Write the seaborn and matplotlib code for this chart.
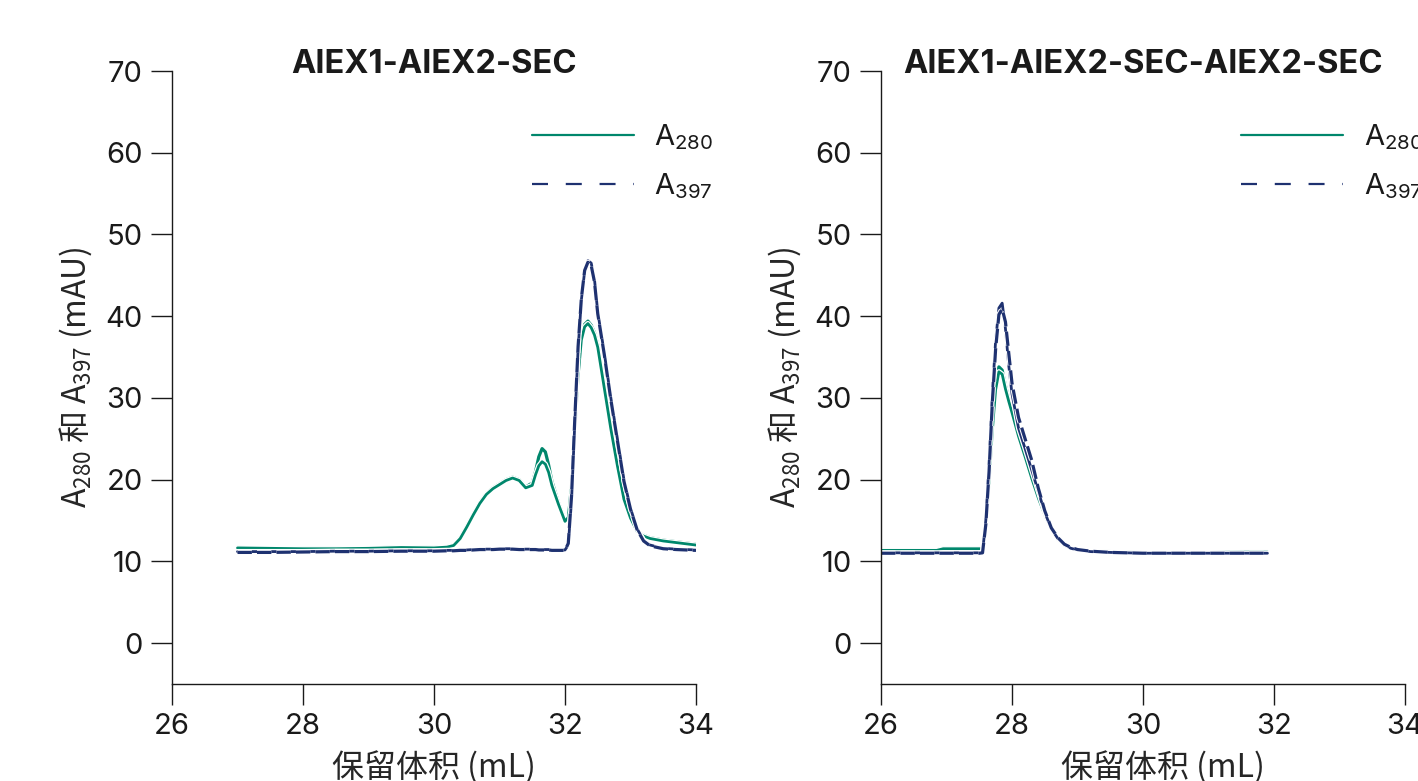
import numpy as np
import pandas as pd
import matplotlib
matplotlib.use("Agg")
import matplotlib.pyplot as plt
import matplotlib.patheffects as pe
from matplotlib.lines import Line2D
import seaborn as sns

# Panel 1: AIEX1-AIEX2-SEC
x1 = [27.0, 27.5, 28.0, 28.5, 29.0, 29.5, 30.0, 30.2, 30.3, 30.4, 30.5, 30.6,
      30.7, 30.8, 30.9, 31.0, 31.1, 31.2, 31.3, 31.4, 31.5, 31.55, 31.6, 31.65,
      31.7, 31.75, 31.8, 31.9, 32.0, 32.05, 32.1, 32.15, 32.2, 32.25, 32.3,
      32.35, 32.4, 32.45, 32.5, 32.6, 32.7, 32.8, 32.9, 33.0, 33.1, 33.2, 33.3,
      33.5, 33.7, 34.0]
a280_1a = [11.7, 11.65, 11.6, 11.6, 11.65, 11.75, 11.7, 11.8, 12.0, 12.9, 14.3,
           15.8, 17.2, 18.3, 19.0, 19.5, 20.0, 20.3, 20.0, 19.1, 19.6, 21.0,
           22.8, 23.8, 23.4, 21.8, 19.8, 17.2, 15.0, 15.6, 20.0, 26.0, 33.0,
           37.5, 39.0, 39.4, 38.9, 38.0, 36.5, 31.5, 26.5, 22.0, 17.8, 15.5,
           13.8, 13.2, 12.9, 12.6, 12.4, 12.1]
a280_1b = [11.65, 11.6, 11.55, 11.55, 11.6, 11.7, 11.65, 11.75, 11.95, 12.8,
           14.2, 15.7, 17.1, 18.2, 18.9, 19.4, 19.9, 20.2, 19.9, 19.0, 19.3,
           20.6, 21.7, 22.2, 21.9, 20.9, 19.3, 17.0, 14.9, 15.4, 19.6, 25.6,
           32.6, 37.1, 38.7, 39.1, 38.6, 37.7, 36.2, 31.2, 26.2, 21.7, 17.6,
           15.3, 13.7, 13.1, 12.8, 12.5, 12.3, 12.0]
a397_1a = [11.2, 11.2, 11.2, 11.25, 11.25, 11.3, 11.3, 11.35, 11.35, 11.4, 11.4,
           11.45, 11.5, 11.5, 11.5, 11.55, 11.55, 11.55, 11.5, 11.5, 11.5, 11.5,
           11.45, 11.45, 11.45, 11.45, 11.4, 11.4, 11.4, 12.0, 17.5, 27.0, 36.0,
           42.0, 45.5, 46.8, 46.5, 44.5, 40.5, 35.5, 30.0, 25.0, 20.0, 16.5,
           14.0, 12.6, 12.0, 11.6, 11.5, 11.4]
a397_1b = [11.1, 11.1, 11.15, 11.2, 11.2, 11.25, 11.25, 11.3, 11.3, 11.35, 11.35,
           11.4, 11.45, 11.45, 11.45, 11.5, 11.5, 11.5, 11.45, 11.45, 11.45,
           11.45, 11.4, 11.4, 11.4, 11.4, 11.35, 11.35, 11.35, 12.2, 18.0, 27.5,
           36.3, 42.2, 45.6, 46.6, 46.2, 44.2, 40.3, 35.3, 29.8, 24.8, 19.8,
           16.4, 13.9, 12.5, 11.9, 11.55, 11.45, 11.35]

# Panel 2: AIEX1-AIEX2-SEC-AIEX2-SEC
x2 = [26.0, 26.5, 26.85, 26.95, 27.0, 27.5, 27.55, 27.6, 27.65, 27.7, 27.75,
      27.8, 27.85, 27.9, 27.95, 28.0, 28.1, 28.2, 28.3, 28.4, 28.5, 28.6, 28.7,
      28.8, 28.9, 29.0, 29.2, 29.5, 30.0, 30.5, 31.0, 31.5, 31.9]
a280_2a = [11.4, 11.4, 11.4, 11.6, 11.6, 11.6, 11.6, 14.5, 20.0, 26.5, 31.5,
           33.8, 33.4, 31.5, 30.0, 28.5, 25.5, 23.0, 20.4, 18.0, 15.8, 14.0,
           12.8, 12.0, 11.6, 11.4, 11.25, 11.2, 11.15, 11.15, 11.15, 11.2, 11.2]
a280_2b = [11.35, 11.35, 11.35, 11.55, 11.55, 11.55, 11.55, 14.2, 19.6, 26.0,
           31.0, 33.2, 32.9, 31.1, 29.6, 28.2, 25.3, 22.8, 20.2, 17.8, 15.7,
           13.9, 12.7, 11.95, 11.55, 11.35, 11.2, 11.15, 11.1, 11.1, 11.1, 11.15,
           11.15]
a397_2a = [11.05, 11.05, 11.05, 11.05, 11.05, 11.05, 11.1, 15.0, 22.0, 30.5,
           37.0, 41.0, 41.6, 38.5, 34.0, 30.5, 26.3, 23.8, 21.2, 18.6, 16.0,
           14.0, 12.8, 12.0, 11.6, 11.4, 11.2, 11.1, 11.0, 11.0, 11.0, 11.0, 11.0]
a397_2b = [11.0, 11.0, 11.0, 11.0, 11.0, 11.0, 11.05, 14.5, 21.0, 29.5, 36.0,
           40.2, 40.9, 39.3, 35.5, 31.8, 27.6, 25.0, 22.4, 19.0, 16.2, 14.1,
           12.9, 12.1, 11.7, 11.45, 11.25, 11.1, 11.0, 11.0, 11.0, 11.0, 11.0]

titles = ["AIEX1-AIEX2-SEC", "AIEX1-AIEX2-SEC-AIEX2-SEC"]
xticks = [26, 28, 30, 32, 34]
yticks = [0, 10, 20, 30, 40, 50, 60, 70]

GREEN = "#00876c"
NAVY = "#1e3170"

sns.set_theme(style="ticks")
plt.rcParams["font.family"] = ["Inter", "Noto Sans CJK SC", "DejaVu Sans"]
plt.rcParams["mathtext.default"] = "regular"
plt.rcParams["axes.edgecolor"] = "#1a1a1a"
plt.rcParams["xtick.color"] = "#1a1a1a"
plt.rcParams["ytick.color"] = "#1a1a1a"
plt.rcParams["text.color"] = "#1a1a1a"

fig = plt.figure(figsize=(14.18, 7.81), dpi=100)
ax1 = fig.add_axes([172 / 1418, 1 - 684 / 781, 524 / 1418, 613 / 781])
ax2 = fig.add_axes([881 / 1418, 1 - 684 / 781, 524 / 1418, 613 / 781])

outline = [pe.Stroke(linewidth=3.8, foreground="white"), pe.Normal()]
dash = (0, (4.5, 1.6))

panels = [
    (ax1, x1, a280_1a, a280_1b, a397_1a, a397_1b),
    (ax2, x2, a280_2a, a280_2b, a397_2a, a397_2b),
]

for i, (ax, x, ga, gb, na, nb) in enumerate(panels):
    df = pd.DataFrame({"x": x, "ga": ga, "gb": gb, "na": na, "nb": nb})
    sns.lineplot(data=df, x="x", y="ga", ax=ax, color=GREEN, lw=2.3,
                 sort=False, path_effects=outline)
    sns.lineplot(data=df, x="x", y="gb", ax=ax, color=GREEN, lw=2.0,
                 sort=False, path_effects=outline)
    sns.lineplot(data=df, x="x", y="na", ax=ax, color=NAVY, lw=2.0,
                 sort=False, path_effects=outline)
    sns.lineplot(data=df, x="x", y="nb", ax=ax, color=NAVY, lw=2.3,
                 sort=False, linestyle=dash, path_effects=outline)

    ax.set_xlim(26, 34)
    ax.set_ylim(-5, 70)
    ax.set_xticks(xticks)
    ax.set_yticks(yticks)
    ax.tick_params(labelsize=21, length=15, width=1.0, pad=6)
    sns.despine(ax=ax)
    for s in ["left", "bottom"]:
        ax.spines[s].set_linewidth(1.0)

    # explicit y keeps matplotlib from pushing the title above the axes
    ax.set_title(titles[i], fontsize=23.5, fontweight="bold", pad=0,
                 y=1 - 2 / 613, family=["Inter", "DejaVu Sans"])
    ax.set_xlabel("保留体积 (mL)", fontsize=23, labelpad=8,
                  family=["Noto Sans CJK SC", "DejaVu Sans"])
    ax.set_ylabel(r"A$_{280}$ 和 A$_{397}$ (mAU)", fontsize=23, labelpad=8,
                  family=["Noto Sans CJK SC"])

    handles = [
        Line2D([], [], color=GREEN, lw=1.6),
        Line2D([], [], color=NAVY, lw=1.6, linestyle=(0, (7.2, 8))),
    ]
    ax.legend(handles, [r"A$_{280}$", r"A$_{397}$"], loc="upper left",
              bbox_to_anchor=((532 - 172) / 524, 0.917), frameon=False,
              fontsize=21, handlelength=3.5, handletextpad=0.7,
              labelspacing=0.66, borderpad=0, borderaxespad=0)

# right-hand x label sits a little right of centre in the original
ax2.xaxis.label.set_x(0.5 + 20 / 524)

fig.savefig("out.png", dpi=100)
